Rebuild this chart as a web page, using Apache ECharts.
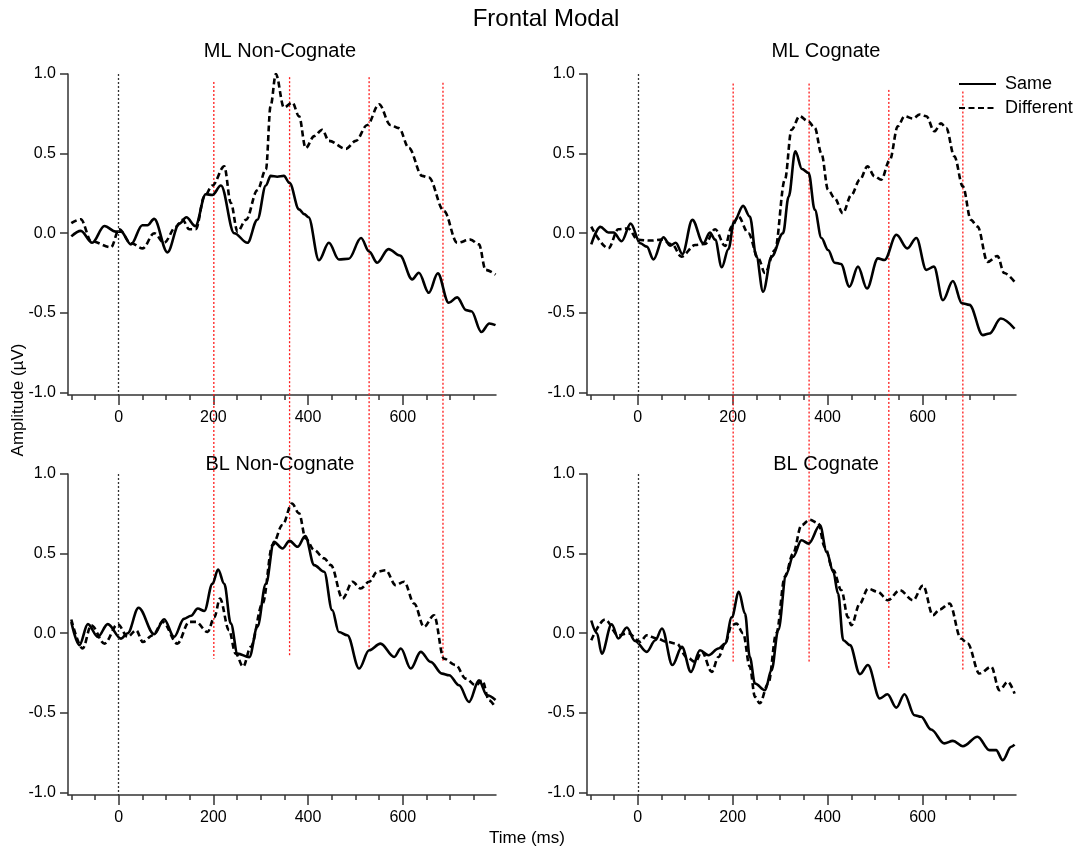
<!DOCTYPE html>
<html>
<head>
<meta charset="utf-8">
<title>Frontal Modal</title>
<script src="https://cdn.jsdelivr.net/npm/echarts@6/dist/echarts.min.js"></script>
<style>
  html, body { margin: 0; padding: 0; background: #fff; }
  #chart { width: 1086px; height: 850px; }
</style>
</head>
<body>
<div id="chart"></div>
<script>
// [time (ms), amplitude (uV)]
const mlNonCognateSame = [[-100,-0.02],[-80,0.015],[-56,-0.06],[-30,0.045],[-6,0.01],[5,0.01],[26,-0.07],[50,0.05],[61,0.05],[75,0.09],[103,-0.12],[128,0.06],[143,0.1],[162,0.045],[184,0.245],[198,0.24],[216,0.3],[244,0.0],[272,-0.06],[293,0.085],[311,0.3],[321,0.36],[335,0.355],[349,0.36],[361,0.315],[381,0.15],[392,0.12],[401,0.1],[423,-0.17],[444,-0.06],[465,-0.165],[486,-0.16],[512,-0.03],[529,-0.115],[546,-0.185],[570,-0.1],[594,-0.14],[620,-0.29],[634,-0.248],[655,-0.374],[674,-0.252],[697,-0.437],[715,-0.403],[734,-0.483],[745,-0.49],[766,-0.62],[783,-0.567],[796,-0.577]];
const mlNonCognateDiff = [[-100,0.063],[-80,0.088],[-58,-0.05],[-16,-0.088],[1,0.025],[26,-0.063],[51,-0.095],[75,0.0],[96,-0.06],[121,0.04],[135,0.084],[149,0.025],[163,0.025],[181,0.23],[198,0.3],[223,0.42],[237,0.19],[251,0.01],[269,0.084],[293,0.27],[311,0.4],[321,0.8],[332,1.0],[349,0.79],[367,0.82],[381,0.735],[395,0.535],[413,0.61],[430,0.65],[444,0.58],[480,0.53],[501,0.58],[525,0.68],[550,0.81],[574,0.68],[592,0.66],[613,0.535],[641,0.36],[655,0.35],[687,0.14],[715,-0.06],[743,-0.04],[761,-0.07],[775,-0.23],[796,-0.26]];
const mlCognateSame = [[-98,-0.07],[-79,0.04],[-62,0.005],[-51,0.005],[-34,-0.05],[-15,0.06],[5,-0.063],[19,-0.084],[33,-0.164],[54,-0.025],[68,-0.078],[80,-0.06],[94,-0.13],[115,0.084],[138,-0.063],[152,0.004],[163,-0.04],[177,-0.214],[191,-0.1],[203,0.074],[222,0.172],[236,0.105],[250,-0.147],[264,-0.368],[282,-0.147],[306,0.0],[318,0.23],[332,0.515],[346,0.403],[360,0.378],[373,0.147],[387,-0.03],[401,-0.105],[415,-0.185],[428,-0.193],[446,-0.336],[464,-0.21],[483,-0.347],[506,-0.158],[520,-0.168],[545,-0.01],[568,-0.095],[587,-0.03],[608,-0.23],[624,-0.21],[643,-0.42],[664,-0.3],[683,-0.44],[699,-0.45],[727,-0.64],[741,-0.63],[765,-0.536],[794,-0.6]];
const mlCognateDiff = [[-98,0.042],[-62,-0.095],[-41,0.025],[-20,0.03],[0,-0.042],[29,-0.046],[50,-0.04],[72,-0.07],[92,-0.147],[121,-0.074],[142,-0.067],[163,0.025],[184,-0.08],[198,0.042],[212,0.105],[233,0.0],[254,-0.158],[268,-0.25],[289,-0.105],[310,0.336],[324,0.65],[341,0.735],[359,0.704],[373,0.662],[387,0.5],[401,0.273],[415,0.22],[432,0.126],[450,0.24],[468,0.336],[484,0.42],[499,0.357],[513,0.336],[531,0.46],[548,0.672],[562,0.735],[580,0.72],[594,0.746],[608,0.735],[625,0.64],[639,0.69],[650,0.66],[667,0.483],[685,0.294],[702,0.084],[716,0.042],[737,-0.18],[758,-0.143],[772,-0.25],[794,-0.305]];
const blNonCognateSame = [[-100,0.07],[-83,-0.075],[-65,0.057],[-44,-0.023],[-23,0.057],[5,-0.034],[19,0.0],[42,0.16],[75,-0.006],[96,0.088],[117,-0.023],[138,0.09],[153,0.11],[167,0.155],[181,0.14],[198,0.31],[210,0.4],[223,0.31],[237,0.06],[251,-0.128],[276,-0.15],[293,0.04],[311,0.31],[328,0.574],[346,0.532],[361,0.58],[378,0.543],[394,0.61],[413,0.428],[434,0.386],[451,0.145],[465,0.008],[483,-0.013],[508,-0.222],[529,-0.107],[553,-0.065],[582,-0.149],[596,-0.096],[617,-0.222],[638,-0.117],[659,-0.18],[683,-0.254],[698,-0.264],[719,-0.327],[740,-0.432],[761,-0.296],[778,-0.39],[796,-0.42]];
const blNonCognateDiff = [[-100,0.086],[-76,-0.096],[-58,0.05],[-30,-0.065],[-2,0.057],[19,-0.023],[37,0.019],[51,-0.055],[72,-0.013],[93,0.071],[124,-0.065],[149,0.071],[163,0.071],[188,0.008],[202,0.1],[214,0.218],[233,0.019],[247,-0.128],[263,-0.21],[279,-0.086],[304,0.187],[325,0.553],[346,0.68],[366,0.815],[381,0.753],[395,0.595],[413,0.522],[434,0.47],[448,0.428],[473,0.218],[494,0.323],[511,0.281],[529,0.323],[546,0.386],[564,0.396],[585,0.302],[603,0.323],[624,0.187],[645,0.04],[666,0.113],[687,-0.16],[712,-0.2],[733,-0.285],[754,-0.327],[768,-0.296],[782,-0.42],[793,-0.453]];
const blCognateSame = [[-98,0.08],[-86,0.0],[-76,-0.128],[-55,0.056],[-41,-0.033],[-23,0.036],[-6,-0.048],[19,-0.117],[37,-0.044],[51,0.03],[73,-0.2],[93,-0.086],[112,-0.243],[131,-0.107],[149,-0.138],[170,-0.096],[184,-0.065],[198,0.1],[213,0.26],[226,0.123],[236,-0.149],[247,-0.316],[268,-0.358],[282,-0.232],[296,0.019],[313,0.374],[327,0.479],[345,0.584],[360,0.563],[384,0.678],[398,0.51],[412,0.385],[422,0.249],[433,-0.044],[447,-0.075],[468,-0.257],[485,-0.2],[510,-0.41],[526,-0.383],[545,-0.467],[562,-0.383],[583,-0.515],[597,-0.525],[618,-0.605],[646,-0.692],[664,-0.676],[685,-0.71],[716,-0.65],[741,-0.734],[755,-0.734],[769,-0.797],[787,-0.713],[794,-0.7]];
const blCognateDiff = [[-98,-0.044],[-69,0.086],[-41,-0.013],[-20,0.0],[5,-0.054],[19,-0.013],[40,-0.033],[61,-0.054],[82,-0.065],[103,-0.149],[121,-0.18],[135,-0.117],[156,-0.243],[170,-0.149],[184,-0.065],[198,0.05],[208,0.06],[222,0.0],[236,-0.21],[247,-0.4],[257,-0.44],[275,-0.316],[292,0.0],[310,0.354],[327,0.5],[345,0.678],[362,0.713],[380,0.692],[394,0.542],[412,0.395],[429,0.27],[443,0.1],[450,0.05],[468,0.186],[485,0.28],[506,0.26],[527,0.207],[552,0.27],[580,0.207],[601,0.3],[622,0.113],[636,0.149],[657,0.186],[681,-0.033],[695,-0.065],[720,-0.253],[745,-0.211],[762,-0.358],[780,-0.305],[794,-0.379]];

const panelTitles = ['ML Non-Cognate', 'ML Cognate', 'BL Non-Cognate', 'BL Cognate'];
const xLabelTicks = [0, 200, 400, 600];
const xMinorTicks = [-100, -50, 0, 50, 100, 150, 200, 250, 300, 350, 400, 450, 500, 550, 600, 650, 700, 750];
const yTicks = [-1, -0.5, 0, 0.5, 1];

// red window markers: time, and where each line starts (top panel) / stops (bottom panel)
const markerTimes = [201, 361, 529, 685];
const markerTopLeft = [0.95, 0.98, 0.98, 0.945];
const markerBottomLeft = [-0.16, -0.14, -0.09, -0.18];
const markerTopRight = [0.94, 0.94, 0.9, 0.89];
const markerBottomRight = [-0.18, -0.18, -0.22, -0.235];

const FONT = '"Liberation Sans", Arial, sans-serif';
const panels = [
  { same: mlNonCognateSame, diff: mlNonCognateDiff, grid: { left: 68, top: 74, width: 428, height: 321 } },
  { same: mlCognateSame, diff: mlCognateDiff, grid: { left: 587, top: 74, width: 429, height: 321 } },
  { same: blNonCognateSame, diff: blNonCognateDiff, grid: { left: 68, top: 474, width: 428, height: 321 } },
  { same: blCognateSame, diff: blCognateDiff, grid: { left: 587, top: 474, width: 429, height: 321 } }
];
const titlePos = [[280, 41], [826, 41], [280, 454], [826, 454]];

const axisColor = '#333';
const xMin = -107, xMax = 797, yMin = -1.016, yMax = 1;

var chart = echarts.init(document.getElementById('chart'));

var xAxes = [], yAxes = [], series = [];
panels.forEach(function (p, i) {
  xAxes.push({
    type: 'value', gridIndex: i, min: xMin, max: xMax, position: 'bottom',
    axisLine: { onZero: false, lineStyle: { color: axisColor, width: 1.5 } },
    axisTick: { customValues: xLabelTicks, length: 10, lineStyle: { color: axisColor, width: 1.5 } },
    axisLabel: { customValues: xLabelTicks, margin: 15, fontSize: 16, color: '#000', fontFamily: FONT },
    splitLine: { show: false }
  });
  yAxes.push({
    type: 'value', gridIndex: i, min: yMin, max: yMax, position: 'left',
    axisLine: { show: true, onZero: false, lineStyle: { color: axisColor, width: 1.5 } },
    axisTick: { show: true, customValues: yTicks, length: 8, lineStyle: { color: axisColor, width: 1.5 } },
    axisLabel: { customValues: yTicks, margin: 12, fontSize: 16, color: '#000', fontFamily: FONT,
      formatter: function (v) { return v.toFixed(1); } },
    splitLine: { show: false }
  });
  series.push({
    name: 'Same', type: 'line', xAxisIndex: i, yAxisIndex: i, data: p.same,
    smooth: 0.35, smoothMonotone: 'x', symbol: 'none', showSymbol: false,
    lineStyle: { color: '#000', width: 2.6 }, itemStyle: { color: '#000' },
    markLine: {
      silent: true, symbol: 'none', label: { show: false },
      lineStyle: { color: '#333', width: 1.3, type: [2, 2] },
      data: [[{ coord: [0, 1] }, { coord: [0, yMin] }]]
    }
  });
  series.push({
    name: 'Different', type: 'line', xAxisIndex: i, yAxisIndex: i, data: p.diff,
    smooth: 0.35, smoothMonotone: 'x', symbol: 'none', showSymbol: false,
    lineStyle: { color: '#000', width: 2.6, type: [6, 3.5] }, itemStyle: { color: '#000' }
  });
});
// minor ticks every 50 ms
panels.forEach(function (p, i) {
  xAxes.push({
    type: 'value', gridIndex: i, min: xMin, max: xMax, position: 'bottom',
    axisLine: { show: false, onZero: false },
    axisTick: { customValues: xMinorTicks, length: 5, lineStyle: { color: axisColor, width: 1.5 } },
    axisLabel: { show: false },
    splitLine: { show: false }
  });
});

var titles = [{
  text: 'Frontal Modal', left: 546, top: 7, textAlign: 'center', padding: 0,
  textStyle: { fontSize: 24, fontWeight: 'normal', color: '#000', fontFamily: FONT }
}];
panelTitles.forEach(function (t, i) {
  titles.push({
    text: t, left: titlePos[i][0], top: titlePos[i][1], textAlign: 'center', padding: 0,
    textStyle: { fontSize: 20, fontWeight: 'normal', color: '#000', fontFamily: FONT }
  });
});

chart.setOption({
  animation: false,
  backgroundColor: '#fff',
  title: titles,
  legend: {
    data: ['Same', 'Different'], orient: 'vertical', left: 958, top: 75,
    itemWidth: 37, itemHeight: 14, itemGap: 6, padding: 0,
    itemStyle: { opacity: 0 },
    textStyle: { fontSize: 18, color: '#000', fontFamily: FONT, padding: [0, 0, 0, 4] }
  },
  grid: panels.map(function (p) { return p.grid; }),
  xAxis: xAxes,
  yAxis: yAxes,
  series: series
});

// red dotted window lines spanning the top and bottom panels of each column
var graphics = [
  { type: 'text', x: 18, y: 400, rotation: Math.PI / 2, silent: true,
    style: { text: 'Amplitude (\u00b5V)', fontSize: 17, fontFamily: FONT, fill: '#000', textAlign: 'center', textVerticalAlign: 'middle' } },
  { type: 'text', x: 527, y: 838, silent: true,
    style: { text: 'Time (ms)', fontSize: 17, fontFamily: FONT, fill: '#000', textAlign: 'center', textVerticalAlign: 'middle' } }
];
[[0, 2, markerTopLeft, markerBottomLeft], [1, 3, markerTopRight, markerBottomRight]].forEach(function (col) {
  markerTimes.forEach(function (t, k) {
    var x = chart.convertToPixel({ xAxisIndex: col[0] }, t);
    var y1 = chart.convertToPixel({ yAxisIndex: col[0] }, col[2][k]);
    var y2 = chart.convertToPixel({ yAxisIndex: col[1] }, col[3][k]);
    graphics.push({
      type: 'line', silent: true, z: 1,
      shape: { x1: x, y1: y1, x2: x, y2: y2 },
      style: { stroke: '#ff1a1a', lineWidth: 1.3, lineDash: [2, 2] }
    });
  });
});
chart.setOption({ graphic: graphics });
</script>
</body>
</html>
